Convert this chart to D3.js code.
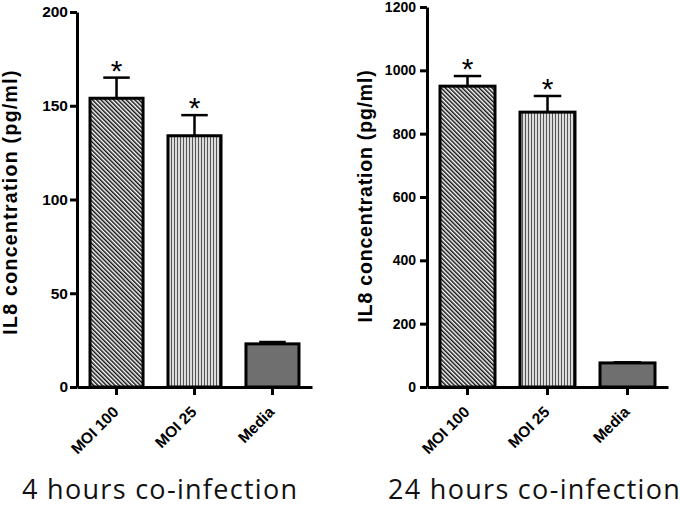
<!DOCTYPE html>
<html><head><meta charset="utf-8">
<script src="https://cdn.jsdelivr.net/npm/d3@7"></script>
<style>body{margin:0;background:#fff}svg{display:block}</style>
</head><body>
<svg id="c" width="680" height="507"></svg>
<script>
const categories = ["MOI 100", "MOI 25", "Media"];
const values4h = [154, 134, 23];
const errors4h = [11, 11, 1];
const stars4h = [true, true, false];
const ticks4h = [0, 50, 100, 150, 200];
const values24h = [950, 868, 76];
const errors24h = [32, 51, 2];
const stars24h = [true, true, false];
const ticks24h = [0, 200, 400, 600, 800, 1000, 1200];
const yTitle = "IL8 concentration (pg/ml)";
const titles = ["4 hours co-infection", "24 hours co-infection"];
const fills = ["url(#diag)", "url(#vert)", "#6f6f6f"];

const ARIAL = "'Liberation Sans', Arial, sans-serif";
const svg = d3.select("#c");
const defs = svg.append("defs");
const pd = defs.append("pattern").attr("id","diag").attr("patternUnits","userSpaceOnUse")
  .attr("width",3).attr("height",3).attr("patternTransform","rotate(-45)");
pd.append("rect").attr("width",3).attr("height",3).attr("fill","#fff");
pd.append("rect").attr("width",1.5).attr("height",3).attr("fill","#111");
const pv = defs.append("pattern").attr("id","vert").attr("patternUnits","userSpaceOnUse")
  .attr("width",3).attr("height",3);
pv.append("rect").attr("width",3).attr("height",3).attr("fill","#dcdcdc");
pv.append("rect").attr("width",1).attr("height",3).attr("fill","#555");

function panel(cfg){
  const g = svg.append("g");
  const x = d3.scaleBand().domain(categories).range([cfg.x0, cfg.x1])
    .paddingInner(cfg.pi).paddingOuter(cfg.po);
  const y = d3.scaleLinear().domain([0, cfg.max]).range([387, cfg.yTop]);
  g.selectAll("rect.bar").data(cfg.values).enter().append("rect")
    .attr("x",(d,i)=>x(categories[i])).attr("width",x.bandwidth())
    .attr("y",d=>y(d)).attr("height",d=>y(0)-y(d))
    .attr("fill",(d,i)=>fills[i]).attr("stroke","#000").attr("stroke-width",3);
  cfg.values.forEach((v,i)=>{
    const cx = x(categories[i]) + x.bandwidth()/2;
    const top = y(v + cfg.errors[i]);
    g.append("line").attr("x1",cx).attr("x2",cx).attr("y1",y(v)).attr("y2",top)
      .attr("stroke","#000").attr("stroke-width",2.5);
    g.append("line").attr("x1",cx - x.bandwidth()/4).attr("x2",cx + x.bandwidth()/4)
      .attr("y1",top).attr("y2",top).attr("stroke","#000").attr("stroke-width",2.5);
    if (cfg.stars[i]) {
      g.append("text").attr("x",cx).attr("y",top+3).attr("text-anchor","middle")
        .style("font-family",ARIAL).style("font-size","30px")
        .text("*");
    }
  });
  const ya = g.append("g").attr("transform",`translate(${cfg.x0},0)`)
    .call(d3.axisLeft(y).tickValues(cfg.ticks).tickFormat(d3.format("d"))
      .tickSizeOuter(0).tickSizeInner(7).tickPadding(cfg.tp));
  ya.select(".domain").attr("stroke-width",3);
  ya.selectAll(".tick line").attr("stroke-width",3);
  ya.selectAll("text").style("font-family",ARIAL)
    .style("font-weight","bold").style("font-size",cfg.tfs+"px").attr("fill","#000");
  const xa = g.append("g").attr("transform","translate(0,387)")
    .call(d3.axisBottom(x).tickSizeOuter(0).tickSizeInner(8).tickFormat(""));
  xa.select(".domain").attr("stroke-width",3);
  xa.selectAll(".tick line").attr("stroke-width",3);
  categories.forEach(c=>{
    const ex = x(c) + x.bandwidth()/2 + 3;
    g.append("text").attr("transform",`translate(${ex},413) rotate(-45)`)
      .attr("text-anchor","end")
      .style("font-family",ARIAL).style("font-weight","bold")
      .style("font-size","15.5px").text(c);
  });
  const tg = g.append("g").attr("transform",`translate(${cfg.titleX},${cfg.titleY}) rotate(-90)`);
  tg.append("text").attr("x",0).attr("y",0)
    .attr("text-anchor","middle")
    .style("letter-spacing",cfg.titleLs+"px")
    .style("font-family",ARIAL).style("font-weight","bold")
    .style("font-size","19.5px").text(yTitle);
  g.append("text").attr("x",cfg.bx).attr("y",499)
    .style("letter-spacing","1.3px")
    .style("font-family","'Open Sans', sans-serif").style("font-size","27px").attr("fill","#111")
    .text(cfg.title);
}

panel({x0:77, x1:312, pi:0.32, po:0.167, max:200, yTop:12, values:values4h, errors:errors4h,
  stars:stars4h, ticks:ticks4h, tfs:15.5, tp:2, titleX:17, titleY:202, titleLs:1.3,
  bx:22, title:titles[0]});
panel({x0:427, x1:668, pi:0.3125, po:0.1625, max:1200, yTop:7, values:values24h, errors:errors24h,
  stars:stars24h, ticks:ticks24h, tfs:14, tp:4, titleX:372, titleY:196, titleLs:0.8,
  bx:388, title:titles[1]});
</script>
</body></html>
